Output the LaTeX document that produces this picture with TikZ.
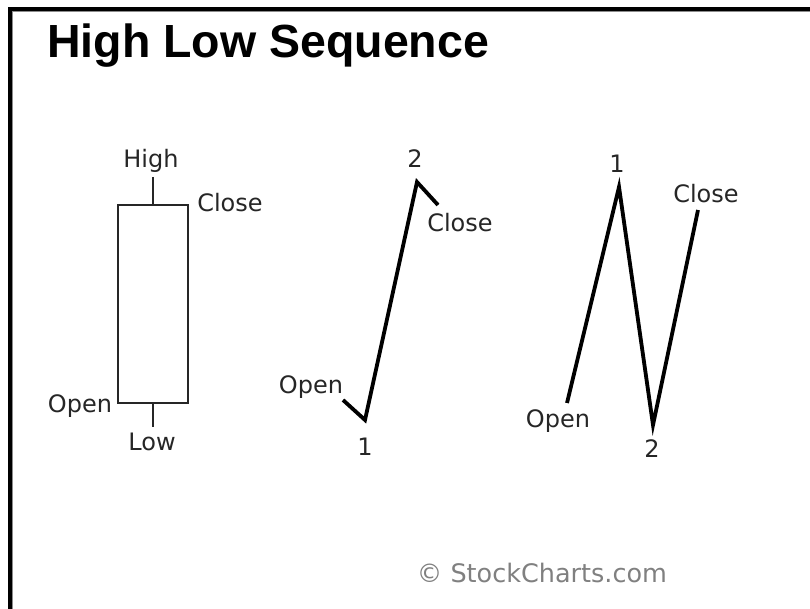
\documentclass[tikz,border=0pt]{standalone}
\usepackage{fontspec}
\setmainfont{DejaVu Sans}
\newfontfamily\titlefont{Liberation Sans}
\begin{document}
\begin{tikzpicture}[x=1pt,y=-1pt,
  lbl/.style={anchor=base,inner sep=0pt,font=\fontsize{24}{28}\selectfont,text=black!85},
  candle/.style={line width=2pt,black!85},
  path/.style={line width=3.8pt,black,line join=miter,line cap=butt},
  frameline/.style={line width=4pt,black}]
\useasboundingbox (0,0) rectangle (810,609);
% frame (left and top only)
\draw[frameline] (10,609) -- (10,9) -- (810,9);
\draw[black!45,line width=0.8pt] (12.4,609) -- (12.4,11.4) -- (810,11.4);
% title
\node[anchor=base west,inner sep=0pt,font=\titlefont\bfseries\fontsize{46.5}{52}\selectfont] (title) at (47,58) {High Low Sequence};
% candlestick
\node[draw,candle,minimum width=70pt,minimum height=198pt,inner sep=0pt,anchor=north west] (body) at (117,204) {};
\coordinate (hi) at ([yshift=27pt]body.north);
\coordinate (lo) at ([yshift=-23pt]body.south);
\draw[candle] (hi) -- (body.north);
\draw[candle] (body.south) -- (lo);
\node[lbl] (lHigh) at (151,168) {High};
\node[lbl] (lClose1) at (230,212) {Close};
\node[lbl] (lOpen1) at (80,412) {Open};
\node[lbl] (lLow) at (152,450) {Low};
% middle sequence
\coordinate (mo) at (343,400);
\coordinate (m1) at (365,420);
\coordinate (m2) at (417,182);
\coordinate (mc) at (438,205);
\draw[path] (mo) -- (m1) -- (m2) -- (mc);
\node[lbl] (lTwoA) at (415,168) {2};
\node[lbl] (lCloseA) at (460,232) {Close};
\node[lbl] (lOpenA) at (311,393) {Open};
\node[lbl] (lOneA) at (365,455) {1};
% right sequence
\coordinate (ro) at (567,403);
\coordinate (r1) at (619,187);
\coordinate (r2) at (653,425);
\coordinate (rc) at (698,210);
\draw[path] (ro) -- (r1) -- (r2) -- (rc);
\node[lbl] (lOneB) at (617,173) {1};
\node[lbl] (lCloseB) at (706,203) {Close};
\node[lbl] (lOpenB) at (558,427) {Open};
\node[lbl] (lTwoB) at (652,457) {2};
% copyright
\node[anchor=base,inner sep=0pt,font=\fontsize{25.5}{29}\selectfont,text=black!50] (copy) at (542,582) {© StockCharts.com};
\end{tikzpicture}
\end{document}
